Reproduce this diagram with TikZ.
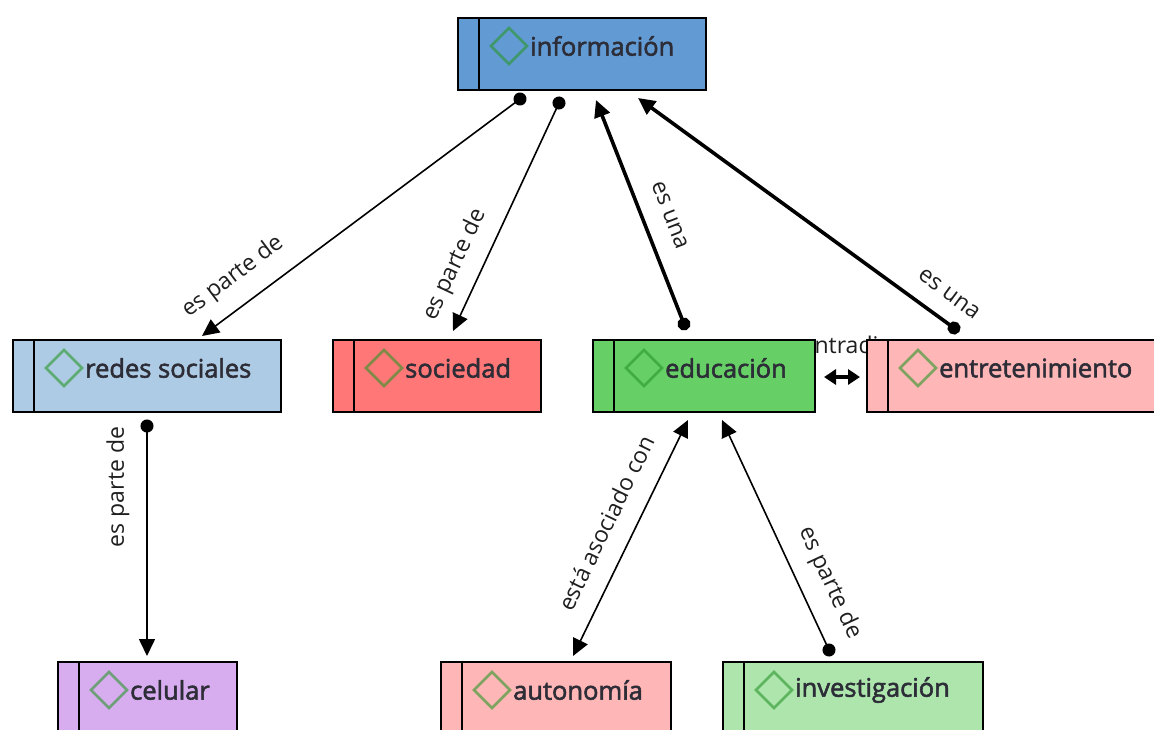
\documentclass[tikz,border=0pt]{standalone}
\usepackage{fontspec}
\setmainfont{Open Sans}
\newfontfamily\nodefont{Open Sans}[FakeBold=2.2]
\usetikzlibrary{arrows.meta,calc}
\definecolor{cinfo}{RGB}{98,155,212}
\definecolor{credes}{RGB}{174,203,229}
\definecolor{csoc}{RGB}{255,119,119}
\definecolor{ceduc}{RGB}{102,208,102}
\definecolor{cpink}{RGB}{255,182,182}
\definecolor{ccel}{RGB}{216,173,240}
\definecolor{cinv}{RGB}{173,229,173}
\definecolor{ctext}{RGB}{45,45,55}
\definecolor{cdia}{RGB}{40,150,40}
\tikzset{
  box/.style={draw=black, line width=2pt, minimum height=72pt, anchor=north west, inner sep=0pt},
  ntext/.style={font=\nodefont\fontsize{25.5}{28}\selectfont, text=ctext, anchor=west, inner sep=0pt},
  lbl/.style={font=\fontsize{23}{25}\selectfont, text=black!88, inner sep=0pt},
  thinedge/.style={line width=1.6pt},
  heavyedge/.style={line width=3.6pt},
  dotstart/.style={{Circle[length=13pt]}-{Triangle[length=17pt,width=16pt]}, shorten <=-6.5pt},
  dia/.style={draw=cdia, draw opacity=0.6, line width=2.6pt},
}
\newcommand{\conceptbox}[6]{% name, x, y, width, color, text
  \node[box, fill=#5, minimum width=#4pt] (#1) at (#2,#3) {};
  \draw[line width=2pt] ($(#1.north west)+(22,0)$) -- ($(#1.south west)+(22,0)$);
  \draw[dia] ($(#1.west)+(52,-8)$) +(-18,0) -- +(0,-18) -- +(18,0) -- +(0,18) -- cycle;
  \node[ntext] (t#1) at ($(#1.west)+(73,-8)$) {#6};
}
\begin{document}
\begin{tikzpicture}[x=1pt,y=-1pt]
\useasboundingbox (0,0) rectangle (1154,729);
\clip (0,0) rectangle (1154,729);
% label mostly hidden behind boxes
\node[lbl] (l8) at (846,345) {contradice};
\conceptbox{info}{457}{17}{248}{cinfo}{información}
\conceptbox{redes}{12}{339}{268}{credes}{redes sociales}
\conceptbox{soc}{332}{339}{208}{csoc}{sociedad}
\conceptbox{educ}{592}{339}{222}{ceduc}{educación}
\conceptbox{entr}{866}{339}{290}{cpink}{entretenimiento}
\conceptbox{cel}{57}{661}{179}{ccel}{celular}
\conceptbox{auto}{440}{661}{230}{cpink}{autonomía}
\conceptbox{inv}{722}{661}{260}{cinv}{investigación}
% connectors
\draw[thinedge, dotstart] ($(info.south west)+(63,8)$) -- ($(redes.north west)+(190,-3)$);
\draw[thinedge, dotstart] ($(info.south west)+(102,12)$) -- ($(soc.north west)+(121,-8)$);
\draw[heavyedge, dotstart] ($(educ.north west)+(92,-15)$) -- ($(info.south west)+(139,9)$);
\draw[heavyedge, dotstart] ($(entr.north west)+(88,-11)$) -- ($(info.south west)+(181,7)$);
\draw[thinedge, dotstart] ($(redes.south west)+(135,13)$) -- ($(cel.north west)+(90,-5)$);
\draw[thinedge, {Triangle[length=17pt,width=16pt]}-{Triangle[length=17pt,width=16pt]}] ($(educ.south west)+(96,7)$) -- ($(auto.north west)+(133,-5)$);
\draw[thinedge, dotstart] ($(inv.north west)+(107,-11)$) -- ($(educ.south west)+(130,7)$);
\draw[heavyedge, {Triangle[length=12pt,width=15pt]}-{Triangle[length=12pt,width=15pt]}] ($(educ.east)+(8,1)$) -- ($(entr.west)+(-6,1)$);
% labels
\node[lbl, rotate=37] (l1) at (233,277) {es parte de};
\node[lbl, rotate=65] (l2) at (455,265) {es parte de};
\node[lbl, rotate=-68.7] (l3) at (670,215) {es una};
\node[lbl, rotate=-36.3] (l4) at (949,294) {es una};
\node[lbl, rotate=90] (l5) at (118,487) {es parte de};
\node[lbl, rotate=64.2] (l6) at (606,523) {está asociado con};
\node[lbl, rotate=-65.2] (l7) at (830,583) {es parte de};
\end{tikzpicture}
\end{document}
